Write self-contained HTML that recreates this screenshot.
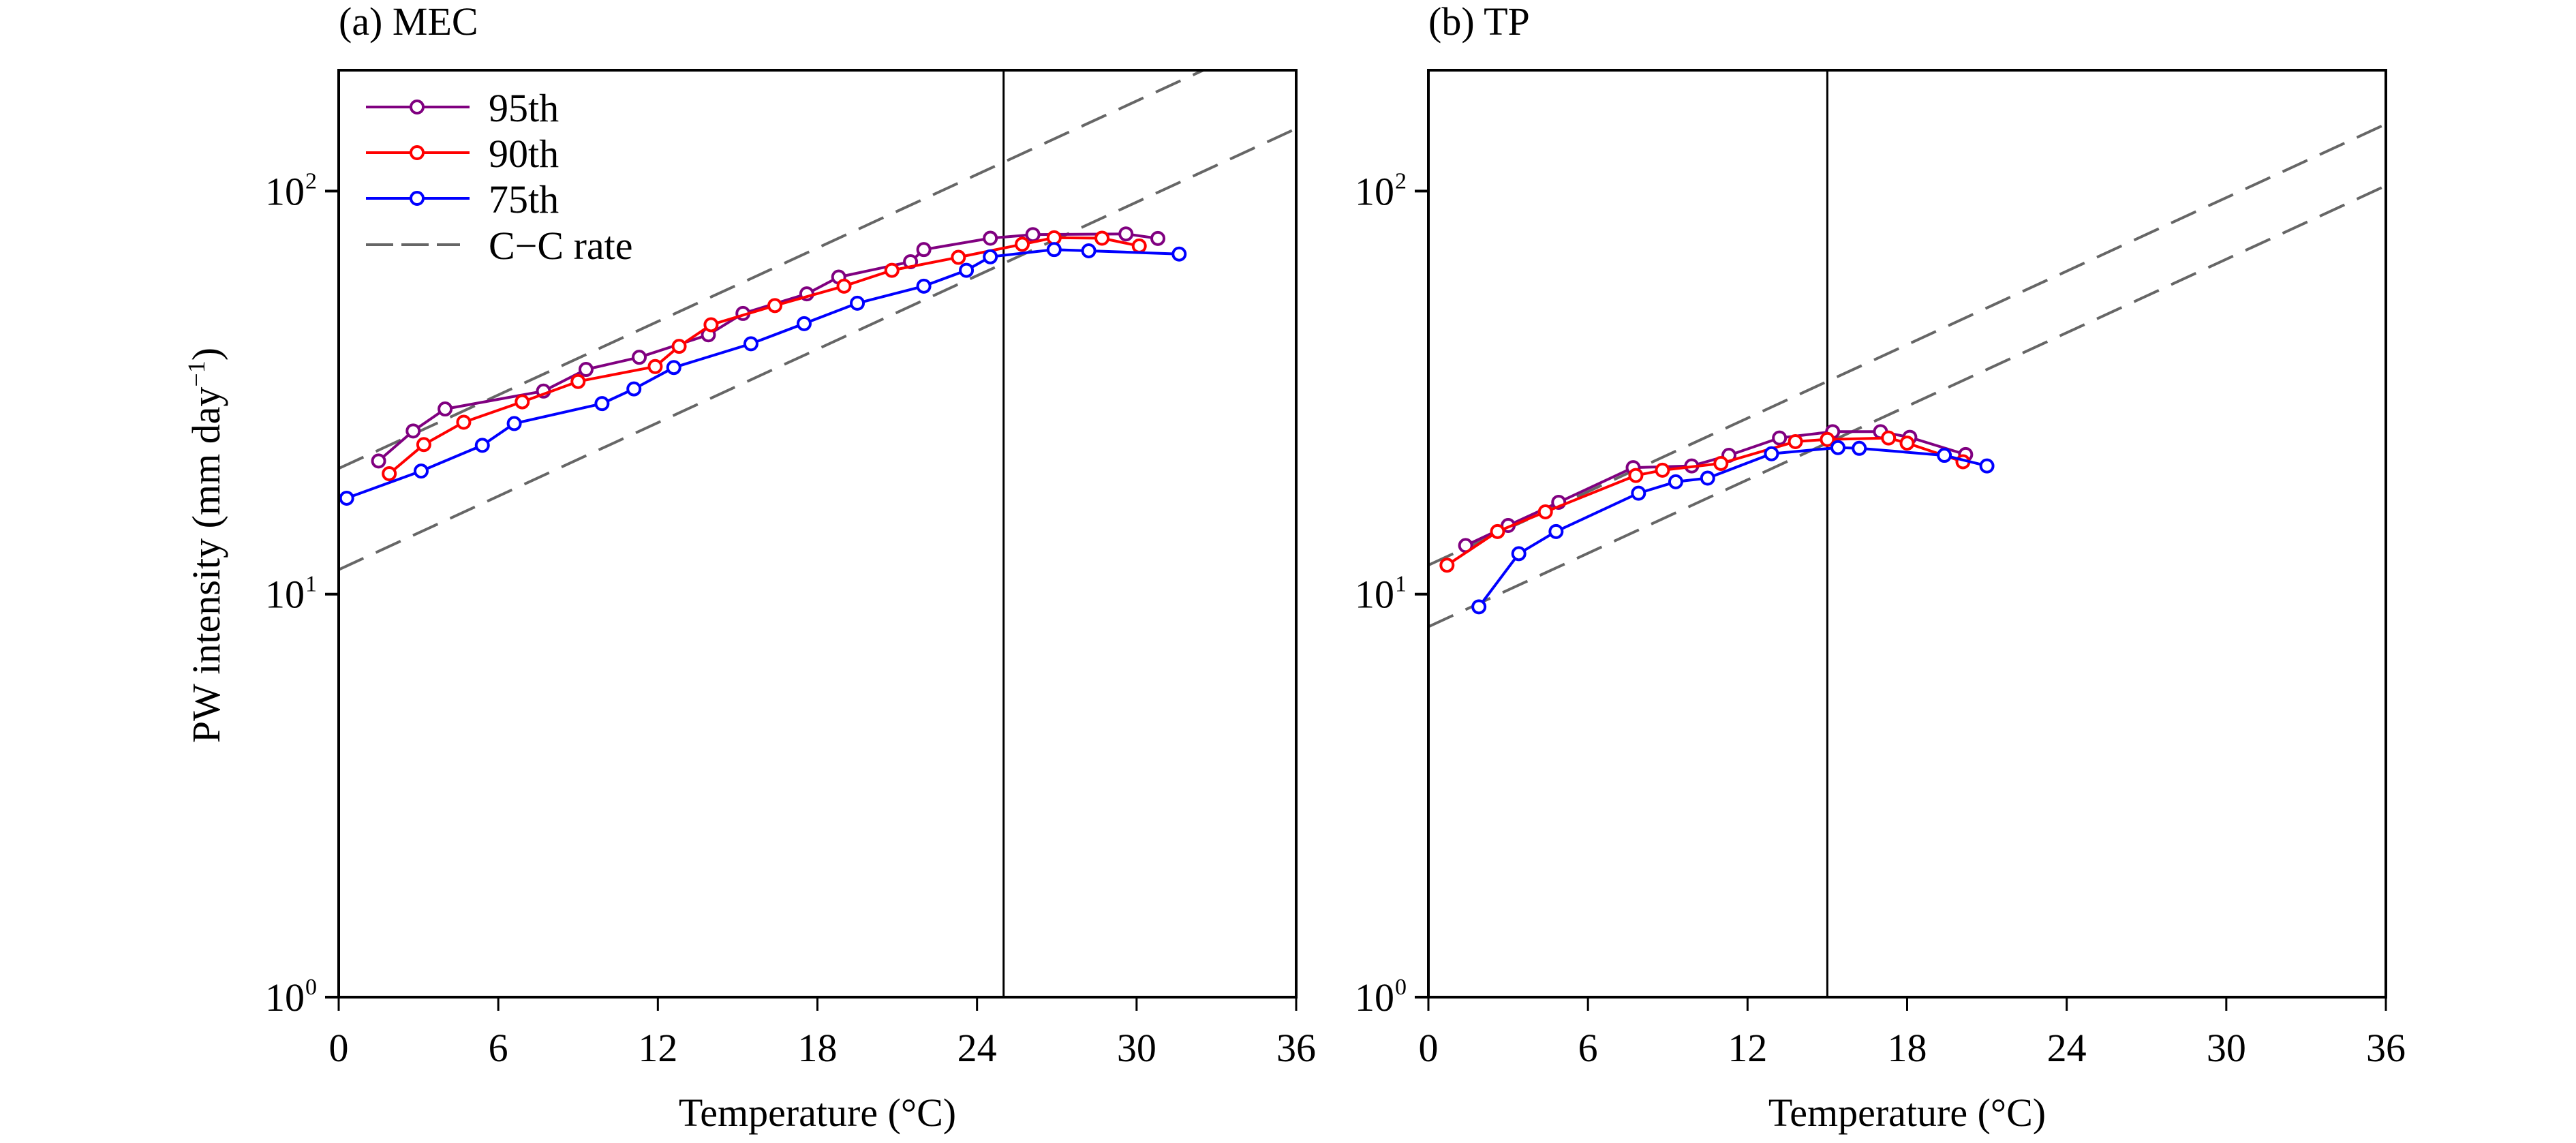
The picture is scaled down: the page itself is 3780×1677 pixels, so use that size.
<!DOCTYPE html>
<html><head><meta charset="utf-8"><style>
html,body{margin:0;padding:0;background:#fff;}
svg{display:block;font-family:"Liberation Serif","Times New Roman",serif;}
</style></head><body>
<svg id="chart" width="3780" height="1677" viewBox="0 0 3780 1677" xmlns="http://www.w3.org/2000/svg"></svg>
<script>
// ---- data ----
const xTicks = [0, 6, 12, 18, 24, 30, 36];
const yTicks = [0, 1, 2]; // exponents of 10
const seriesNames = ["95th", "90th", "75th"];
const seriesColors = ["#800080", "#ff0000", "#0000ff"];

const aT95 = [1.5, 2.8, 4.0, 7.7, 9.3, 11.3, 13.9, 15.2, 17.6, 18.8, 21.5, 22.0, 24.5, 26.1, 29.6, 30.8];
const aV95 = [21.4, 25.4, 28.8, 31.9, 36.1, 38.7, 44.0, 49.7, 55.6, 61.2, 66.8, 71.6, 76.4, 78.0, 78.3, 76.3];
const aT90 = [1.9, 3.2, 4.7, 6.9, 9.0, 11.9, 12.8, 14.0, 16.4, 19.0, 20.8, 23.3, 25.7, 26.9, 28.7, 30.1];
const aV90 = [19.9, 23.5, 26.7, 30.0, 33.7, 36.7, 41.2, 46.6, 52.0, 58.1, 63.6, 68.5, 73.8, 76.6, 76.4, 73.1];
const aT75 = [0.3, 3.1, 5.4, 6.6, 9.9, 11.1, 12.6, 15.5, 17.5, 19.5, 22.0, 23.6, 24.5, 26.9, 28.2, 31.6];
const aV75 = [17.3, 20.2, 23.4, 26.5, 29.7, 32.3, 36.5, 41.8, 46.9, 52.7, 58.1, 63.6, 68.7, 71.6, 71.1, 69.8];

const bT95 = [1.4, 3.0, 4.9, 7.7, 9.9, 11.3, 13.2, 15.2, 17.0, 18.1, 20.2];
const bV95 = [13.2, 14.8, 16.9, 20.6, 20.8, 22.1, 24.4, 25.3, 25.3, 24.5, 22.2];
const bT90 = [0.7, 2.6, 4.4, 7.8, 8.8, 11.0, 13.8, 15.0, 17.3, 18.0, 20.1];
const bV90 = [11.8, 14.3, 16.0, 19.7, 20.3, 21.1, 23.9, 24.2, 24.4, 23.7, 21.3];
const bT75 = [1.9, 3.4, 4.8, 7.9, 9.3, 10.5, 12.9, 15.4, 16.2, 19.4, 21.0];
const bV75 = [9.3, 12.6, 14.3, 17.8, 19.0, 19.4, 22.3, 23.1, 23.0, 22.1, 20.8];

// C-C rate reference lines: value at T=0 and growth per K
const ccRate = 1.0725;
const aCC0 = [20.5, 11.5];
const bCC0 = [11.8, 8.3];
const vLineA = 25, vLineB = 15;

// ---- layout ----
const NS = "http://www.w3.org/2000/svg";
const svg = document.getElementById("chart");
const TOP = 103, BOT = 1463, DEC = (BOT - TOP) / 2.3, X0 = 0, X1 = 36, W = 1405;
function mk(tag, attrs, parent) {
  const e = document.createElementNS(NS, tag);
  for (const k in attrs) e.setAttribute(k, attrs[k]);
  (parent || svg).appendChild(e);
  return e;
}
function panel(left, title, Ts, Vs, cc0, vline, key, withLegend) {
  const g = mk("g", {});
  
  
  const xs = t => left + (t - X0) / (X1 - X0) * W;
  const ys = v => BOT - Math.log10(v) * DEC;
  const clip = mk("clipPath", {id: "clip-" + key}, g);
  mk("rect", {x: left, y: TOP, width: W, height: BOT - TOP}, clip);
  const tt = mk("text", {x: left, y: 51, "font-size": 58}, g);
  tt.textContent = title;
  
  
  cc0.forEach((c, i) => {
    const l = mk("line", {x1: xs(0), y1: ys(c), x2: xs(36), y2: ys(c * Math.pow(ccRate, 36)),
      stroke: "#666", "stroke-width": 4, "stroke-dasharray": "40 20", "clip-path": "url(#clip-" + key + ")"}, g);
    
    
  });
  const vl = mk("line", {x1: xs(vline), y1: TOP, x2: xs(vline), y2: BOT, stroke: "#000", "stroke-width": 3}, g);
  
  
  Ts.forEach((T, si) => {
    const V = Vs[si];
    const pts = T.map((t, i) => xs(t).toFixed(1) + "," + ys(V[i]).toFixed(1)).join(" ");
    const pl = mk("polyline", {points: pts, fill: "none", stroke: seriesColors[si], "stroke-width": 4, "stroke-linejoin": "round"}, g);
    
    
    T.forEach((t, i) => {
      const c = mk("circle", {cx: xs(t), cy: ys(V[i]), r: 9, fill: "#fff", stroke: seriesColors[si], "stroke-width": 4}, g);
      
      
    });
  });
  const fr = mk("rect", {x: left, y: TOP, width: W, height: BOT - TOP, fill: "none", stroke: "#000", "stroke-width": 4}, g);
  
  
  xTicks.forEach(t => {
    mk("line", {x1: xs(t), y1: BOT, x2: xs(t), y2: BOT + 20, stroke: "#000", "stroke-width": 3}, g);
    const tx = mk("text", {x: xs(t), y: 1557, "font-size": 58, "text-anchor": "middle"}, g);
    tx.textContent = t;
    
    
  });
  yTicks.forEach(e => {
    const y = ys(Math.pow(10, e));
    mk("line", {x1: left - 20, y1: y, x2: left, y2: y, stroke: "#000", "stroke-width": 4}, g);
    const tx = mk("text", {x: left - 50, y: y + 20, "font-size": 58, "text-anchor": "end"}, g);
    tx.textContent = "10";
    
    
    const sup = mk("text", {x: left - 49, y: y - 4, "font-size": 34}, g);
    sup.textContent = e;
  });
  const xt = mk("text", {x: left + W / 2, y: 1652, "font-size": 58, "text-anchor": "middle"}, g);
  xt.textContent = "Temperature (°C)";
  
  
  if (withLegend) {
    const lg = mk("g", {}, g);
    
    
    const rows = [157, 224, 291, 359];
    seriesNames.forEach((n, i) => {
      const e = mk("g", {}, lg);
      
      
      mk("line", {x1: 537, y1: rows[i], x2: 689, y2: rows[i], stroke: seriesColors[i], "stroke-width": 4}, e);
      mk("circle", {cx: 612, cy: rows[i], r: 9, fill: "#fff", stroke: seriesColors[i], "stroke-width": 4}, e);
      const t = mk("text", {x: 717, y: rows[i] + 21, "font-size": 58}, e);
      t.textContent = n;
    });
    const e = mk("g", {}, lg);
    
    
    mk("line", {x1: 537, y1: 359, x2: 675, y2: 359, stroke: "#666", "stroke-width": 4, "stroke-dasharray": "40 12"}, e);
    const t = mk("text", {x: 717, y: 380, "font-size": 58}, e);
    t.textContent = "C\u2212C rate";
  }
}
panel(497, "(a) MEC", [aT95, aT90, aT75], [aV95, aV90, aV75], aCC0, vLineA, "a", true);
panel(2096, "(b) TP", [bT95, bT90, bT75], [bV95, bV90, bV75], bCC0, vLineB, "b", false);
const yt = mk("text", {x: 0, y: 0, "font-size": 58, "text-anchor": "middle", transform: "translate(322,800) rotate(-90)"});


yt.innerHTML = 'PW intensity (mm day<tspan dy="-22" font-size="36">\u22121</tspan><tspan dy="22">)</tspan>';
</script>
</body></html>
